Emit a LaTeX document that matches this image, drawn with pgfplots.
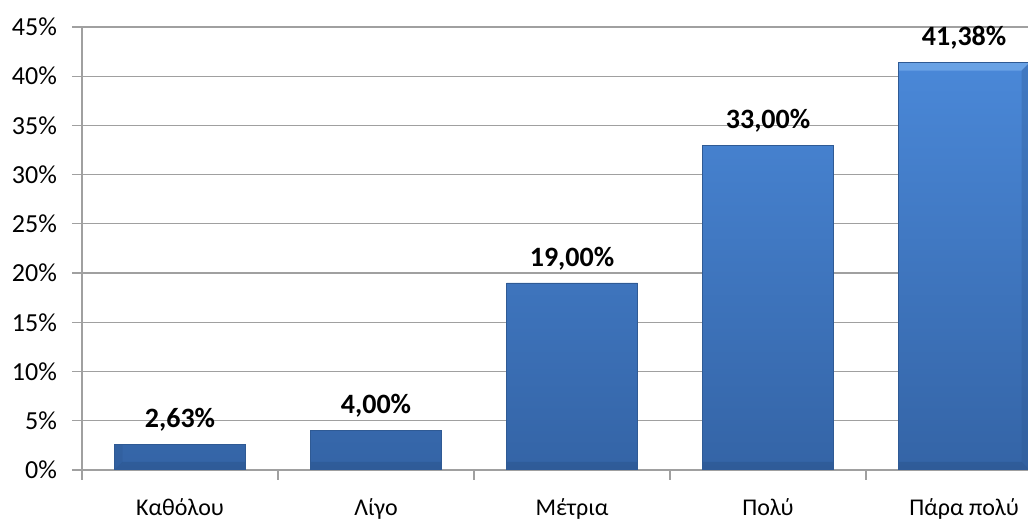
\documentclass[border=0pt]{standalone}
\usepackage{fontspec}
\setmainfont{Carlito}
\usepackage{pgfplots}
\pgfplotsset{compat=1.18}
\usetikzlibrary{calc}
\definecolor{gridgray}{HTML}{A0A0A0}
\definecolor{bartop}{HTML}{4A88D8}
\definecolor{barbot}{HTML}{3464A6}
\definecolor{baredge}{HTML}{2F5A94}
\definecolor{bevhi}{HTML}{6FA7E8}
\definecolor{bevlo}{HTML}{2C5690}

% corner of the bar being drawn, moved by (#2,#3)
\newcommand\bvpt[3]{\pgfpointadd{\pgfpointanchor{path picture bounding box}{#1}}{\pgfpoint{#2}{#3}}}
% one bevel facet: colour, opacity, four corners
\newcommand\bvface[6]{%
  \pgfsetfillcolor{#1}\pgfsetfillopacity{#2}%
  \pgfpathmoveto{#3}\pgfpathlineto{#4}\pgfpathlineto{#5}\pgfpathlineto{#6}%
  \pgfpathclose\pgfusepath{fill}}
\def\bw{4pt}
\tikzset{bevel/.style={path picture={%
  \pgftransformreset
  \bvface{bevhi}{0.85}{\bvpt{north west}{0pt}{0pt}}{\bvpt{north east}{0pt}{0pt}}
         {\bvpt{north east}{-\bw}{-\bw}}{\bvpt{north west}{\bw}{-\bw}}%
  \bvface{bevlo}{0.3}{\bvpt{north west}{0pt}{0pt}}{\bvpt{north west}{\bw}{-\bw}}
         {\bvpt{south west}{\bw}{\bw}}{\bvpt{south west}{0pt}{0pt}}%
  \bvface{bevlo}{0.3}{\bvpt{north east}{0pt}{0pt}}{\bvpt{north east}{-\bw}{-\bw}}
         {\bvpt{south east}{-\bw}{\bw}}{\bvpt{south east}{0pt}{0pt}}%
  \bvface{bevlo}{0.6}{\bvpt{south west}{0pt}{0pt}}{\bvpt{south east}{0pt}{0pt}}
         {\bvpt{south east}{-\bw}{\bw}}{\bvpt{south west}{\bw}{\bw}}%
}}}

\begin{document}
\begin{tikzpicture}
\begin{axis}[
  name=ax,
  scale only axis,
  width=473pt, height=221.5pt,
  xmin=-0.5, xmax=4.326,
  ymin=0, ymax=45,
  axis x line=bottom, axis y line=left,
  axis line style={draw=gridgray, -, line width=0.6pt},
  ytick={0,5,...,45},
  ymajorgrids,
  grid style={gridgray, line width=0.6pt},
  yticklabel={\pgfmathprintnumber{\tick}\%},
  xtick={-0.5,0.5,1.5,2.5,3.5},
  xticklabels={},
  extra x ticks={0,1,2,3,4},
  extra x tick labels={Καθόλου, Λίγο, Μέτρια, Πολύ, Πάρα πολύ},
  extra x tick style={tick style={draw=none}},
  tick align=outside,
  major tick length=5pt,
  tick style={gridgray, line width=0.6pt},
  tick label style={font=\fontsize{12}{14}\selectfont, black},
  yticklabel style={font=\fontsize{13}{15}\selectfont, xshift=-4pt},
  /pgf/number format/assume math mode=true,
  xticklabel style={yshift=-6pt},
  ybar,
  bar width=65.5pt,
  nodes near coords={\pgfmathprintnumber[fixed, fixed zerofill, precision=2, use comma]{\pgfplotspointmeta}\%},
  nodes near coords style={font=\fontsize{14}{16}\selectfont\bfseries, black, yshift=3pt, path picture={}},
]
\addplot[draw=baredge, line width=0.4pt, top color=bartop, bottom color=barbot, bevel]
  coordinates {(0,2.63) (1,4) (2,19) (3,33) (4,41.38)};
\end{axis}
\pgfresetboundingbox
\path[use as bounding box] ($(ax.south west)+(-41pt,-25.5pt)$) rectangle ($(ax.north east)+(0,13.5pt)$);
\end{tikzpicture}
\end{document}
